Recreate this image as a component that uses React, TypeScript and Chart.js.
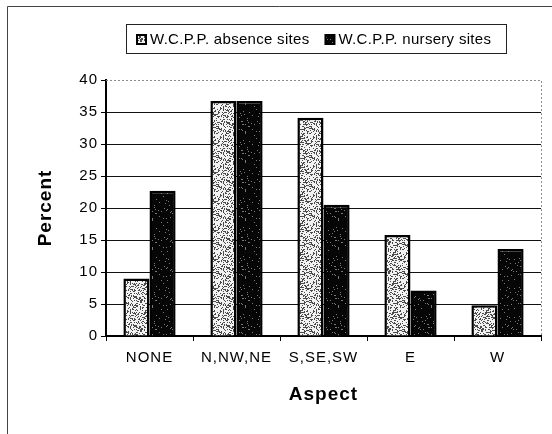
import React, { useEffect, useRef } from 'react';
import { Chart, registerables } from 'chart.js';

Chart.register(...registerables);

// ---- data ----
const categories = ['NONE', 'N,NW,NE', 'S,SE,SW', 'E', 'W'];
const absenceSites = [9, 36.7, 34.1, 15.8, 4.8];
const nurserySites = [22.7, 36.7, 20.5, 7.1, 13.6];
const seriesLabels = ['W.C.P.P. absence sites', 'W.C.P.P. nursery sites'];
const yMin = 0;
const yMax = 40;
const yStep = 5;
const xTitle = 'Aspect';
const yTitle = 'Percent';

const FONT = "'Liberation Sans', Arial, sans-serif";

// speckled fill texture (styling only; deterministic hash)
function makePattern(bg: string, fg: string, percent: number): CanvasPattern | string {
  const W = 31;
  const H = 29;
  const c = document.createElement('canvas');
  c.width = W;
  c.height = H;
  const g = c.getContext('2d');
  if (!g) return bg;
  g.fillStyle = bg;
  g.fillRect(0, 0, W, H);
  g.fillStyle = fg;
  for (let y = 0; y < H; y++) {
    for (let x = 0; x < W; x++) {
      let h = Math.imul(x + 1, 73856093) ^ Math.imul(y + 7, 19349663) ^ Math.imul((x + 3) * (y + 5), 83492791);
      h = Math.imul(h ^ (h >>> 13), 1274126177);
      h = (h ^ (h >>> 16)) >>> 0;
      if (h % 100 < percent) g.fillRect(x, y, 1, 1);
    }
  }
  return g.createPattern(c, 'repeat') || bg;
}

export default function App() {
  const ref = useRef<HTMLCanvasElement>(null);

  useEffect(() => {
    const canvas = ref.current;
    if (!canvas) return;
    const lightFill = makePattern('#f2f2f2', '#4a4a4a', 36);
    const darkFill = makePattern('#060606', '#7a7a7a', 7);
    const fills = [lightFill, darkFill];

    const framePlugin = {
      id: 'framePlugin',
      beforeLayout(chart: any) {
        chart.ctx.letterSpacing = '1px';
      },
      beforeDraw(chart: any) {
        const ctx = chart.ctx;
        ctx.letterSpacing = '1px';
        ctx.save();
        ctx.fillStyle = '#fff';
        ctx.fillRect(0, 0, chart.width, chart.height);
        ctx.restore();
      },
      afterDraw(chart: any) {
        const ctx = chart.ctx as CanvasRenderingContext2D;
        const a = chart.chartArea;
        ctx.save();
        // outer frame (left + top)
        ctx.strokeStyle = '#444';
        ctx.lineWidth = 1;
        ctx.beginPath();
        ctx.moveTo(7.5, chart.height);
        ctx.lineTo(7.5, 6.5);
        ctx.lineTo(chart.width, 6.5);
        ctx.stroke();
        // dotted plot-area border (top + right)
        ctx.strokeStyle = '#8c8c8c';
        ctx.setLineDash([2, 2]);
        ctx.beginPath();
        ctx.moveTo(a.left, Math.round(a.top) + 0.5);
        ctx.lineTo(Math.round(a.right) + 0.5, Math.round(a.top) + 0.5);
        ctx.lineTo(Math.round(a.right) + 0.5, a.bottom);
        ctx.stroke();
        ctx.setLineDash([]);

        // legend
        const boxL = 126, boxR = 506, boxT = 24, boxB = 53;
        ctx.strokeStyle = '#222';
        ctx.lineWidth = 1;
        ctx.strokeRect(boxL + 0.5, boxT + 0.5, boxR - boxL, boxB - boxT);
        (ctx as any).letterSpacing = '0.3px';
        ctx.font = `15px ${FONT}`;
        ctx.textBaseline = 'middle';
        ctx.textAlign = 'left';
        const icon = 9, gapIcon = 4, gapItem = 16;
        const widths = chart.data.datasets.map((d: any) => ctx.measureText(d.label).width);
        const total = widths.reduce((s: number, w: number) => s + w, 0) + chart.data.datasets.length * (icon + gapIcon) + gapItem * (chart.data.datasets.length - 1);
        let x = Math.round((boxL + boxR) / 2 - total / 2) - 2;
        const cy = (boxT + boxB) / 2 + 1;
        chart.data.datasets.forEach((d: any, i: number) => {
          ctx.fillStyle = d.backgroundColor;
          ctx.fillRect(x, cy - icon / 2, icon, icon);
          ctx.strokeStyle = '#000';
          ctx.lineWidth = 2;
          ctx.strokeRect(x, cy - icon / 2, icon, icon);
          ctx.fillStyle = '#000';
          ctx.fillText(d.label, x + icon + gapIcon, cy);
          x += icon + gapIcon + widths[i] + gapItem;
        });
        ctx.restore();
      },
    };

    Chart.defaults.font.family = FONT;
    Chart.defaults.color = '#000';

    const chart = new Chart(canvas, {
      type: 'bar',
      data: {
        labels: categories,
        datasets: [
          {
            label: seriesLabels[0],
            data: absenceSites,
            backgroundColor: fills[0] as any,
            borderColor: '#000',
            borderWidth: 2.5,
            categoryPercentage: 0.6,
            barPercentage: 1.0,
          },
          {
            label: seriesLabels[1],
            data: nurserySites,
            backgroundColor: fills[1] as any,
            borderColor: '#000',
            borderWidth: 2.5,
            categoryPercentage: 0.6,
            barPercentage: 1.0,
          },
        ],
      },
      options: {
        responsive: false,
        animation: false,
        devicePixelRatio: 1,
        layout: { padding: { left: 0, right: 11, top: 80, bottom: 0 } },
        plugins: {
          legend: { display: false },
          tooltip: { enabled: false },
        },
        scales: {
          x: {
            grid: {
              display: true,
              drawOnChartArea: false,
              drawTicks: true,
              tickLength: 5,
              color: '#000',
              tickColor: '#000',
              lineWidth: 1,
              offset: true,
            },
            border: { display: true, color: '#000', width: 2 },
            ticks: { font: { size: 15 }, color: '#000', padding: 8, maxRotation: 0, autoSkip: false },
            title: {
              display: true,
              text: xTitle,
              color: '#000',
              font: { size: 19, weight: 'bold' },
              padding: { top: 0, bottom: 28 },
            },
            afterFit: (s: any) => {
              s.height = 98;
            },
          },
          y: {
            min: yMin,
            max: yMax,
            ticks: { stepSize: yStep, font: { size: 15 }, color: '#000', padding: 3 },
            grid: {
              color: (c: any) => (c.tick && c.tick.value === yMax ? 'rgba(0,0,0,0)' : '#111'),
              tickColor: '#000',
              tickLength: 5,
              lineWidth: 1,
            },
            border: { display: true, color: '#000', width: 2 },
            title: {
              display: true,
              text: yTitle,
              color: '#000',
              font: { size: 19, weight: 'bold' },
              padding: { top: 34, bottom: 0 },
            },
            afterFit: (s: any) => {
              s.width = 106;
            },
          },
        },
      },
      plugins: [framePlugin],
    });

    return () => chart.destroy();
  }, []);

  return (
    <div style={{ position: 'fixed', left: 0, top: 0, width: 552, height: 434, background: '#fff' }}>
      <canvas ref={ref} width={552} height={434} style={{ display: 'block', width: 552, height: 434 }} />
    </div>
  );
}
